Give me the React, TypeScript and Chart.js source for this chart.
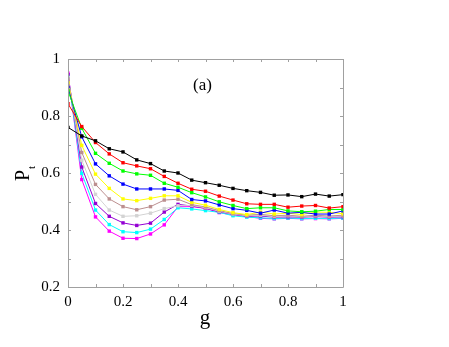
import React, { useEffect, useRef } from "react";
import { Chart, registerables } from "chart.js";

Chart.register(...registerables);

const gValues = [0, 0.05, 0.1, 0.15, 0.2, 0.25, 0.3, 0.35, 0.4, 0.45, 0.5, 0.55, 0.6, 0.65, 0.7, 0.75, 0.8, 0.85, 0.9, 0.95, 1];

const black = [0.76, 0.73, 0.713, 0.685, 0.674, 0.646, 0.633, 0.607, 0.6, 0.575, 0.566, 0.557, 0.546, 0.538, 0.532, 0.522, 0.523, 0.517, 0.526, 0.519, 0.524];
const red = [0.843, 0.763, 0.707, 0.667, 0.636, 0.625, 0.615, 0.588, 0.564, 0.543, 0.536, 0.519, 0.505, 0.492, 0.49, 0.49, 0.48, 0.484, 0.486, 0.477, 0.482];
const green = [0.888, 0.757, 0.669, 0.634, 0.607, 0.597, 0.592, 0.564, 0.55, 0.531, 0.516, 0.499, 0.486, 0.475, 0.478, 0.478, 0.467, 0.464, 0.466, 0.472, 0.472];
const blue = [0.9, 0.727, 0.632, 0.59, 0.561, 0.544, 0.544, 0.544, 0.539, 0.507, 0.502, 0.488, 0.475, 0.469, 0.459, 0.47, 0.459, 0.462, 0.456, 0.456, 0.467];
const yellow = [0.917, 0.697, 0.596, 0.546, 0.509, 0.503, 0.511, 0.52, 0.52, 0.497, 0.487, 0.472, 0.461, 0.454, 0.463, 0.456, 0.459, 0.454, 0.463, 0.462, 0.457];
const tan = [0.93, 0.672, 0.56, 0.509, 0.482, 0.471, 0.482, 0.505, 0.508, 0.489, 0.481, 0.468, 0.458, 0.452, 0.455, 0.45, 0.452, 0.448, 0.452, 0.449, 0.452];
const gray = [0.935, 0.645, 0.525, 0.47, 0.448, 0.45, 0.459, 0.475, 0.485, 0.486, 0.478, 0.466, 0.456, 0.45, 0.452, 0.447, 0.45, 0.447, 0.45, 0.447, 0.45];
const purple = [0.945, 0.621, 0.493, 0.448, 0.425, 0.416, 0.424, 0.463, 0.49, 0.484, 0.476, 0.464, 0.456, 0.448, 0.449, 0.445, 0.446, 0.445, 0.447, 0.445, 0.446];
const cyan = [0.94, 0.599, 0.47, 0.419, 0.394, 0.391, 0.403, 0.437, 0.478, 0.474, 0.468, 0.462, 0.45, 0.445, 0.443, 0.44, 0.442, 0.44, 0.441, 0.44, 0.442];
const magenta = [0.95, 0.577, 0.446, 0.396, 0.371, 0.37, 0.386, 0.418, 0.482, 0.482, 0.476, 0.461, 0.453, 0.447, 0.441, 0.439, 0.441, 0.439, 0.44, 0.439, 0.441];

const seriesList = [black, red, green, blue, yellow, tan, gray, purple, cyan, magenta];
const seriesColors = ["#000000", "#ff0000", "#00ff00", "#0000ff", "#ffff00", "#bc8f8f", "#d3d3d3", "#9400d3", "#00ffff", "#ff00ff"];

const xTickValues = [0, 0.1, 0.2, 0.3, 0.4, 0.5, 0.6, 0.7, 0.8, 0.9, 1];
const yTickValues = [0.2, 0.3, 0.4, 0.5, 0.6, 0.7, 0.8, 0.9, 1];

const SERIF = "'Liberation Serif', 'Times New Roman', serif";

const framePlugin = {
  id: "framePlugin",
  afterDraw(chart: any) {
    const { ctx, chartArea } = chart;
    const { left, right, top, bottom } = chartArea;
    const xs = chart.scales.x;
    const ys = chart.scales.y;
    ctx.save();
    ctx.strokeStyle = "#a0a0a0";
    ctx.lineWidth = 1;
    ctx.beginPath();
    ctx.rect(Math.round(left) + 0.5, Math.round(top) + 0.5, Math.round(right - left), Math.round(bottom - top));
    ctx.stroke();
    const tl = 3;
    ctx.beginPath();
    xTickValues.forEach((v) => {
      const px = Math.round(xs.getPixelForValue(v)) + 0.5;
      ctx.moveTo(px, bottom);
      ctx.lineTo(px, bottom - tl);
      ctx.moveTo(px, top);
      ctx.lineTo(px, top + tl);
    });
    yTickValues.forEach((v) => {
      const py = Math.round(ys.getPixelForValue(v)) + 0.5;
      ctx.moveTo(left, py);
      ctx.lineTo(left + tl, py);
      ctx.moveTo(right, py);
      ctx.lineTo(right - tl, py);
    });
    ctx.stroke();

    ctx.fillStyle = "#000";
    ctx.textAlign = "left";
    ctx.textBaseline = "alphabetic";
    ctx.font = `17px ${SERIF}`;
    ctx.fillText("(a)", 193, 90);

    ctx.font = `21px ${SERIF}`;
    ctx.textAlign = "center";
    ctx.fillText("g", 205, 324);

    ctx.translate(29, 181);
    ctx.rotate(-Math.PI / 2);
    ctx.textAlign = "left";
    ctx.font = `20px ${SERIF}`;
    ctx.fillText("P", 0, 0);
    const pw = ctx.measureText("P").width;
    ctx.font = `11px ${SERIF}`;
    ctx.fillText("t", pw + 1, 6);
    ctx.restore();
  },
};

export default function App() {
  const canvasRef = useRef<HTMLCanvasElement | null>(null);

  useEffect(() => {
    document.body.style.margin = "0";
    const canvas = canvasRef.current;
    if (!canvas) return;
    const chart = new Chart(canvas, {
      type: "line",
      data: {
        datasets: seriesList.map((s, i) => ({
          data: s.map((v, j) => ({ x: gValues[j], y: v })),
          borderColor: seriesColors[i],
          backgroundColor: seriesColors[i],
          borderWidth: 1,
          pointStyle: "rect",
          pointRadius: 2.4,
          pointBorderWidth: 0,
          fill: false,
          tension: 0,
        })),
      },
      options: {
        responsive: false,
        animation: false,
        devicePixelRatio: 1,
        layout: { padding: { left: 0, top: 59, right: 106, bottom: 0 } },
        plugins: {
          legend: { display: false },
          tooltip: { enabled: false },
        },
        scales: {
          x: {
            type: "linear",
            min: 0,
            max: 1,
            afterFit: (scale: any) => {
              scale.height = 60;
            },
            grid: { display: false, drawTicks: false },
            border: { display: false },
            ticks: {
              stepSize: 0.2,
              padding: 6,
              color: "#000",
              font: { family: SERIF, size: 15 },
              maxRotation: 0,
              callback: (v: any) => String(Number(Number(v).toFixed(1))),
            },
          },
          y: {
            type: "linear",
            min: 0.2,
            max: 1,
            afterFit: (scale: any) => {
              scale.width = 68;
            },
            grid: { display: false, drawTicks: false },
            border: { display: false },
            ticks: {
              stepSize: 0.2,
              padding: 8,
              color: "#000",
              font: { family: SERIF, size: 15 },
              callback: (v: any) => String(Number(Number(v).toFixed(1))),
            },
          },
        },
      },
      plugins: [framePlugin],
    } as any);
    return () => chart.destroy();
  }, []);

  return (
    <div style={{ position: "absolute", left: 0, top: 0, width: 449, height: 347, background: "#fff" }}>
      <canvas ref={canvasRef} width={449} height={347} style={{ display: "block" }} />
    </div>
  );
}
